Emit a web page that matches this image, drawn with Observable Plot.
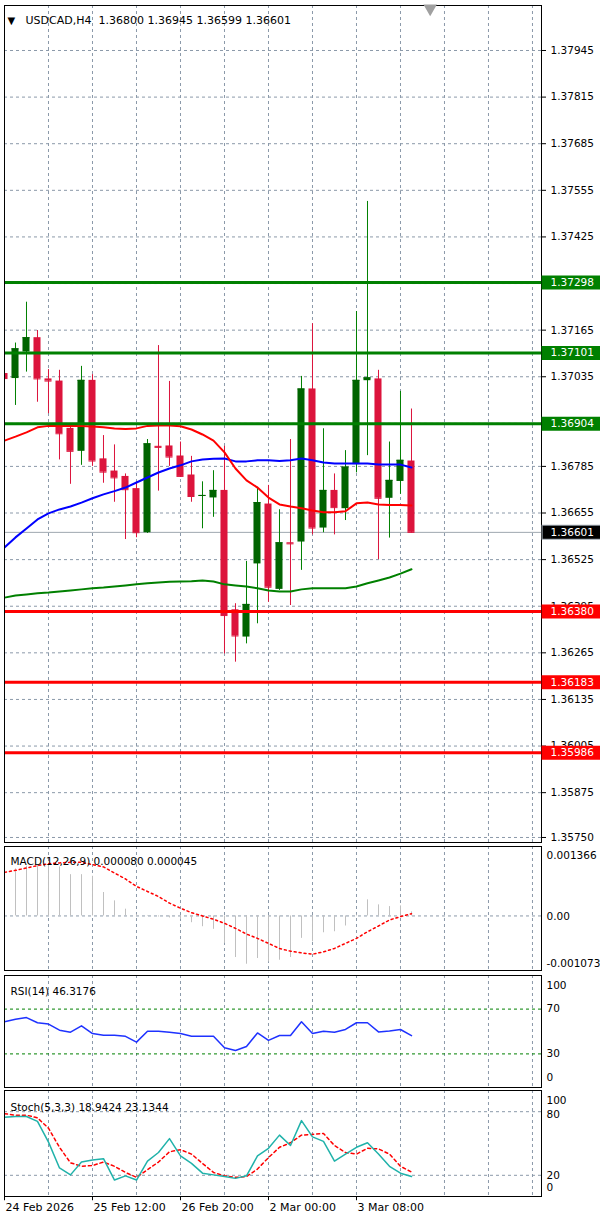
<!DOCTYPE html>
<html><head><meta charset="utf-8">
<script src="https://cdn.jsdelivr.net/npm/d3@7"></script>
<script src="https://cdn.jsdelivr.net/npm/@observablehq/plot@0.6"></script>
<style>
html,body{margin:0;padding:0;background:#fff;}
#wrap{position:relative;width:600px;height:1215px;overflow:hidden;background:#fff;}
#wrap > div{position:absolute;left:0;width:600px;}
svg{display:block;}
</style></head><body><div id="wrap"></div>
<script>
// ---------- data ----------
const symbol = "USDCAD", timeframe = "H4";
const opens  = [1.37044,1.37030,1.37104,1.37144,1.37029,1.37023,1.36891,1.36827,1.37025,1.36806,1.36772,1.36757,1.36723,1.36600,1.36841,1.36842,1.36814,1.36761,1.36701,1.36697,1.36718,1.36385,1.36309,1.36513,1.36680,1.36442,1.36572,1.36574,1.37001,1.36613,1.36718,1.36667,1.36790,1.37024,1.37029,1.36696,1.36743,1.36800];
const highs  = [1.37100,1.37129,1.37243,1.37164,1.37055,1.37053,1.36902,1.37064,1.37041,1.36871,1.36845,1.36764,1.36741,1.36860,1.37122,1.37022,1.36853,1.36813,1.36742,1.36773,1.36841,1.36402,1.36520,1.36727,1.36732,1.36664,1.36860,1.37036,1.37183,1.36890,1.36764,1.36829,1.37217,1.37524,1.37053,1.36853,1.36994,1.36945];
const lows   = [1.36955,1.36955,1.37048,1.36964,1.36932,1.36803,1.36735,1.36788,1.36785,1.36738,1.36685,1.36581,1.36586,1.36598,1.36716,1.36785,1.36754,1.36685,1.36611,1.36643,1.36262,1.36239,1.36290,1.36346,1.36406,1.36439,1.36397,1.36495,1.36594,1.36600,1.36594,1.36634,1.36767,1.36815,1.36525,1.36585,1.36707,1.36599];
const closes = [1.37030,1.37113,1.37144,1.37029,1.37023,1.36876,1.36827,1.37025,1.36800,1.36769,1.36753,1.36720,1.36600,1.36848,1.36838,1.36811,1.36757,1.36701,1.36704,1.36718,1.36369,1.36312,1.36400,1.36684,1.36448,1.36572,1.36569,1.37001,1.36613,1.36718,1.36670,1.36783,1.37025,1.37032,1.36696,1.36746,1.36802,1.36601];

const maRed   = [1.36857,1.36868,1.36880,1.36894,1.36898,1.36898,1.36898,1.36898,1.36896,1.36894,1.36891,1.36889,1.36891,1.36898,1.36899,1.36899,1.36897,1.36888,1.36874,1.36857,1.36824,1.36779,1.36746,1.36726,1.36698,1.36679,1.36673,1.36668,1.36662,1.36657,1.36657,1.36660,1.36682,1.36684,1.36679,1.36677,1.36677,1.36676];
const maBlue  = [1.36559,1.36587,1.36612,1.36637,1.36654,1.36665,1.36673,1.36684,1.36696,1.36707,1.36716,1.36726,1.36740,1.36754,1.36768,1.36779,1.36788,1.36799,1.36804,1.36806,1.36807,1.36799,1.36799,1.36802,1.36802,1.36800,1.36802,1.36807,1.36802,1.36796,1.36793,1.36793,1.36793,1.36793,1.36790,1.36790,1.36790,1.36782];
const maGreen = [1.36419,1.36425,1.36428,1.36431,1.36433,1.36436,1.36439,1.36442,1.36445,1.36447,1.36450,1.36453,1.36456,1.36459,1.36461,1.36463,1.36464,1.36465,1.36467,1.36464,1.36456,1.36453,1.36450,1.36445,1.36439,1.36436,1.36436,1.36442,1.36445,1.36445,1.36445,1.36445,1.36450,1.36459,1.36467,1.36475,1.36486,1.36498];

const resistance = [1.37298, 1.37101, 1.36904];
const support    = [1.36380, 1.36183, 1.35986];
const priceTicks = [1.37945,1.37815,1.37685,1.37555,1.37425,1.37295,1.37165,1.37035,1.36905,1.36785,1.36655,1.36525,1.36395,1.36265,1.36135,1.36005,1.35875,1.35750];
const priceDomain = [1.35736, 1.380705];

const macdHist   = [0.000857,0.000925,0.000976,0.001010,0.000990,0.000964,0.000812,0.000812,0.000780,0.000461,0.000297,0.000133,0.000030,0.000010,-0.000020,-0.000040,-0.000070,-0.000133,-0.000212,-0.000263,-0.000540,-0.000818,-0.000950,-0.000837,-0.000905,-0.000871,-0.000818,-0.000441,-0.000509,-0.000331,-0.000311,-0.000198,0.000020,0.000317,0.000218,0.000184,0.000198,0.000080];
const macdSignal = [0.000857,0.000897,0.000944,0.000990,0.001029,0.001043,0.001055,0.001055,0.001010,0.000964,0.000845,0.000727,0.000580,0.000481,0.000382,0.000251,0.000152,0.000065,0.000000,-0.000065,-0.000145,-0.000244,-0.000356,-0.000441,-0.000540,-0.000639,-0.000693,-0.000727,-0.000752,-0.000707,-0.000639,-0.000540,-0.000441,-0.000311,-0.000198,-0.000079,-0.000014,0.000045];
const macdDomain = [-0.001073, 0.001366];

const rsi = [58.7,60.9,62.4,57.8,56.6,51.2,49.4,55.1,48.2,46.6,46.6,45.7,40.5,50.3,50.3,49.4,48.2,45.7,45.7,45.7,35.5,33.0,36.6,48.7,42.1,46.4,46.4,58.7,48.2,50.3,49.4,51.8,57.8,57.8,49.6,50.5,51.8,46.3176];
const rsiLevels = [70, 30];

const stochK = [74.8,75.5,75.5,70.9,51.3,26.9,20.4,32.5,34.4,35.7,15.5,19.5,15.5,33.4,41.5,54.6,38.3,31.2,22.0,20.4,18.8,17.1,19.5,38.3,45.5,57.9,48.1,71.6,56.2,52.0,33.4,40.0,46.4,50.7,40.0,28.5,22.0,18.9424];
const stochD = [78.1,76.7,76.7,74.2,64.4,46.4,31.8,28.5,29.2,32.5,28.5,22.7,18.1,25.3,32.5,42.2,44.2,40.0,31.2,22.7,19.5,18.1,18.8,25.9,36.7,46.4,50.7,57.9,58.6,59.5,48.1,41.5,40.0,45.5,44.9,40.0,28.5,23.1344];
const stochLevels = [80, 20];

const timeTicks  = [0, 8, 16, 24, 32];
const timeLabels = ["24 Feb 2026", "25 Feb 12:00", "26 Feb 20:00", "2 Mar 00:00", "3 Mar 08:00"];
const gridBars = [4, 8, 12, 16, 20, 24, 28, 32, 36, 40, 44, 48];

// ---------- layout / style ----------
const barsVisible = 48.82;
const fontFamily = "'DejaVu Sans', sans-serif";
const gridColor = "#8b99a9";
const bullBody = "#006400", bullWick = "#008000", bearCol = "#dc143c";
const baseStyle = {fontFamily, fontSize: "10.5px", background: "transparent", color: "#000", overflow: "visible"};
const gridOpts = {stroke: gridColor, strokeOpacity: 1, strokeDasharray: "3,3"};
const fmt5 = d => d.toFixed(5);

const bars = opens.map((o, i) => ({i, open: o, high: highs[i], low: lows[i], close: closes[i], bull: closes[i] >= o}));
const series = arr => arr.map((v, i) => ({i, v}));
const last = bars[bars.length - 1];

function place(el, top) {
  const d = document.createElement("div");
  d.style.top = top + "px";
  d.appendChild(el);
  document.getElementById("wrap").appendChild(d);
}

function boxes(levels, fill, border) {
  const marks = [];
  if (border) marks.push(Plot.ruleY(levels, {x1: barsVisible + 0.05, x2: barsVisible + 6, stroke: border, strokeWidth: 15}));
  marks.push(Plot.ruleY(levels, {x1: barsVisible + (border ? 0.15 : 0.05), x2: barsVisible + 6, stroke: fill, strokeWidth: border ? 13 : 14}));
  marks.push(Plot.text(levels, {x: barsVisible, y: d => d, text: fmt5, dx: 9, textAnchor: "start", fill: "#fff"}));
  return marks;
}

// ---------- main price panel ----------
const main = Plot.plot({
  width: 600, height: 845, marginTop: 5, marginBottom: 3, marginLeft: 4, marginRight: 59,
  style: baseStyle,
  x: {domain: [0, barsVisible], axis: null},
  y: {domain: priceDomain},
  marks: [
    Plot.gridY(priceTicks, gridOpts),
    Plot.gridX(gridBars, gridOpts),
    Plot.ruleY([last.close], {stroke: "#9ea7b0"}),
    Plot.ruleX(bars, {x: "i", y1: "low", y2: "high", stroke: d => d.bull ? bullWick : bearCol, clip: true}),
    Plot.rect(bars, {x1: d => d.i - 0.32, x2: d => d.i + 0.32, y1: "open", y2: "close", fill: d => d.bull ? bullBody : bearCol, clip: true}),
    Plot.ruleY(bars, {y: "close", x1: d => d.i - 0.32, x2: d => d.i + 0.32, stroke: d => d.bull ? bullBody : bearCol, clip: true}),
    Plot.line(series(maGreen), {x: "i", y: "v", stroke: "#008000", strokeWidth: 2, clip: true}),
    Plot.line(series(maBlue), {x: "i", y: "v", stroke: "#0000ff", strokeWidth: 2, clip: true}),
    Plot.line(series(maRed), {x: "i", y: "v", stroke: "#ff0000", strokeWidth: 2, clip: true}),
    Plot.ruleY(resistance, {stroke: "#008000", strokeWidth: 3}),
    Plot.ruleY(support, {stroke: "#ff0000", strokeWidth: 3}),
    Plot.frame({stroke: "#000"}),
    Plot.axisY(priceTicks, {anchor: "right", tickFormat: fmt5, tickSize: 4, tickPadding: 5, label: null, stroke: "#000", fill: "#000"}),
    ...boxes(resistance, "#008000"),
    ...boxes(support, "#ff0000"),
    ...boxes([last.close], "#000", "#9ea7b0"),
    Plot.text(["\u25BC"], {frameAnchor: "top-left", dx: 3, dy: 11, textAnchor: "start", fontSize: 10, fill: "#000"}),
    Plot.text([`${symbol},${timeframe}\u00a0\u00a0${fmt5(last.open)} ${fmt5(last.high)} ${fmt5(last.low)} ${fmt5(last.close)}`],
      {frameAnchor: "top-left", dx: 21, dy: 11, textAnchor: "start", fontSize: 11, fill: "#000"}),
    Plot.dot([last.i + 1.7], {x: d => d, frameAnchor: "top", dy: 3, symbol: "triangle", rotate: 180, r: 5, fill: "#a0a0a0", stroke: null})
  ]
});
place(main, 0);

function rightLabel(value, text, dy) {
  return Plot.text([value], {x: barsVisible, y: d => d, text: () => text, dx: 5, dy, textAnchor: "start", fill: "#000"});
}

// ---------- MACD ----------
const macdData = macdHist.map((h, i) => ({i, h, s: macdSignal[i]}));
const macd = Plot.plot({
  width: 600, height: 128, marginTop: 2, marginBottom: 2, marginLeft: 4, marginRight: 59,
  style: baseStyle,
  x: {domain: [0, barsVisible], axis: null},
  y: {domain: macdDomain, axis: null},
  marks: [
    Plot.gridX(gridBars, gridOpts),
    Plot.ruleY([0], gridOpts),
    Plot.ruleX(macdData, {x: "i", y1: 0, y2: "h", stroke: "#c0c0c0", clip: true}),
    Plot.line(macdData, {x: "i", y: "s", stroke: "#ff0000", strokeDasharray: "2,3", clip: true}),
    Plot.frame({stroke: "#000"}),
    Plot.text([`MACD(12,26,9) ${macdHist.at(-1).toFixed(6)} ${macdSignal.at(-1).toFixed(6)}`],
      {frameAnchor: "top-left", dx: 6, dy: 11, textAnchor: "start", fill: "#000"}),
    rightLabel(macdDomain[1], macdDomain[1].toFixed(6), 9),
    rightLabel(0, "0.00", 1),
    rightLabel(macdDomain[0], macdDomain[0].toFixed(6), -7)
  ]
});
place(macd, 844);

// ---------- RSI ----------
const rsiPlot = Plot.plot({
  width: 600, height: 116, marginTop: 2, marginBottom: 2, marginLeft: 4, marginRight: 59,
  style: baseStyle,
  x: {domain: [0, barsVisible], axis: null},
  y: {domain: [0, 100], axis: null},
  marks: [
    Plot.gridX(gridBars, gridOpts),
    Plot.ruleY(rsiLevels, {stroke: "#008000", strokeDasharray: "3,3"}),
    Plot.line(series(rsi), {x: "i", y: "v", stroke: "#1e32ff", clip: true}),
    Plot.frame({stroke: "#000"}),
    Plot.text([`RSI(14) ${rsi.at(-1).toFixed(4)}`], {frameAnchor: "top-left", dx: 6, dy: 12, textAnchor: "start", fill: "#000"}),
    rightLabel(100, "100", 10),
    rightLabel(70, "70", 0),
    rightLabel(30, "30", 0),
    rightLabel(0, "0", -10)
  ]
});
place(rsiPlot, 973);

// ---------- Stochastic ----------
const stochData = stochK.map((k, i) => ({i, k, d: stochD[i]}));
const stoch = Plot.plot({
  width: 600, height: 127, marginTop: 2, marginBottom: 19, marginLeft: 4, marginRight: 59,
  style: baseStyle,
  x: {domain: [0, barsVisible], axis: null},
  y: {domain: [0, 100], axis: null},
  marks: [
    Plot.gridX(gridBars, gridOpts),
    Plot.ruleY(stochLevels, gridOpts),
    Plot.line(stochData, {x: "i", y: "d", stroke: "#ff0000", strokeDasharray: "3,3", clip: true}),
    Plot.line(stochData, {x: "i", y: "k", stroke: "#20b2aa", clip: true}),
    Plot.frame({stroke: "#000"}),
    Plot.text([`Stoch(5,3,3) ${stochK.at(-1).toFixed(4)} ${stochD.at(-1).toFixed(4)}`], {frameAnchor: "top-left", dx: 6, dy: 13, textAnchor: "start", fill: "#000"}),
    rightLabel(100, "100", 10),
    rightLabel(80, "80", 3),
    rightLabel(20, "20", 0),
    rightLabel(0, "0", -9),
    Plot.ruleX(timeTicks, {x: d => d, y1: 0, y2: -4, stroke: "#000"}),
    Plot.text(timeTicks, {x: d => d, text: (d, i) => timeLabels[i], frameAnchor: "bottom", dy: 14, dx: 1, textAnchor: "start", fontSize: 11, fill: "#000"})
  ]
});
place(stoch, 1088);
</script>
</body></html>
